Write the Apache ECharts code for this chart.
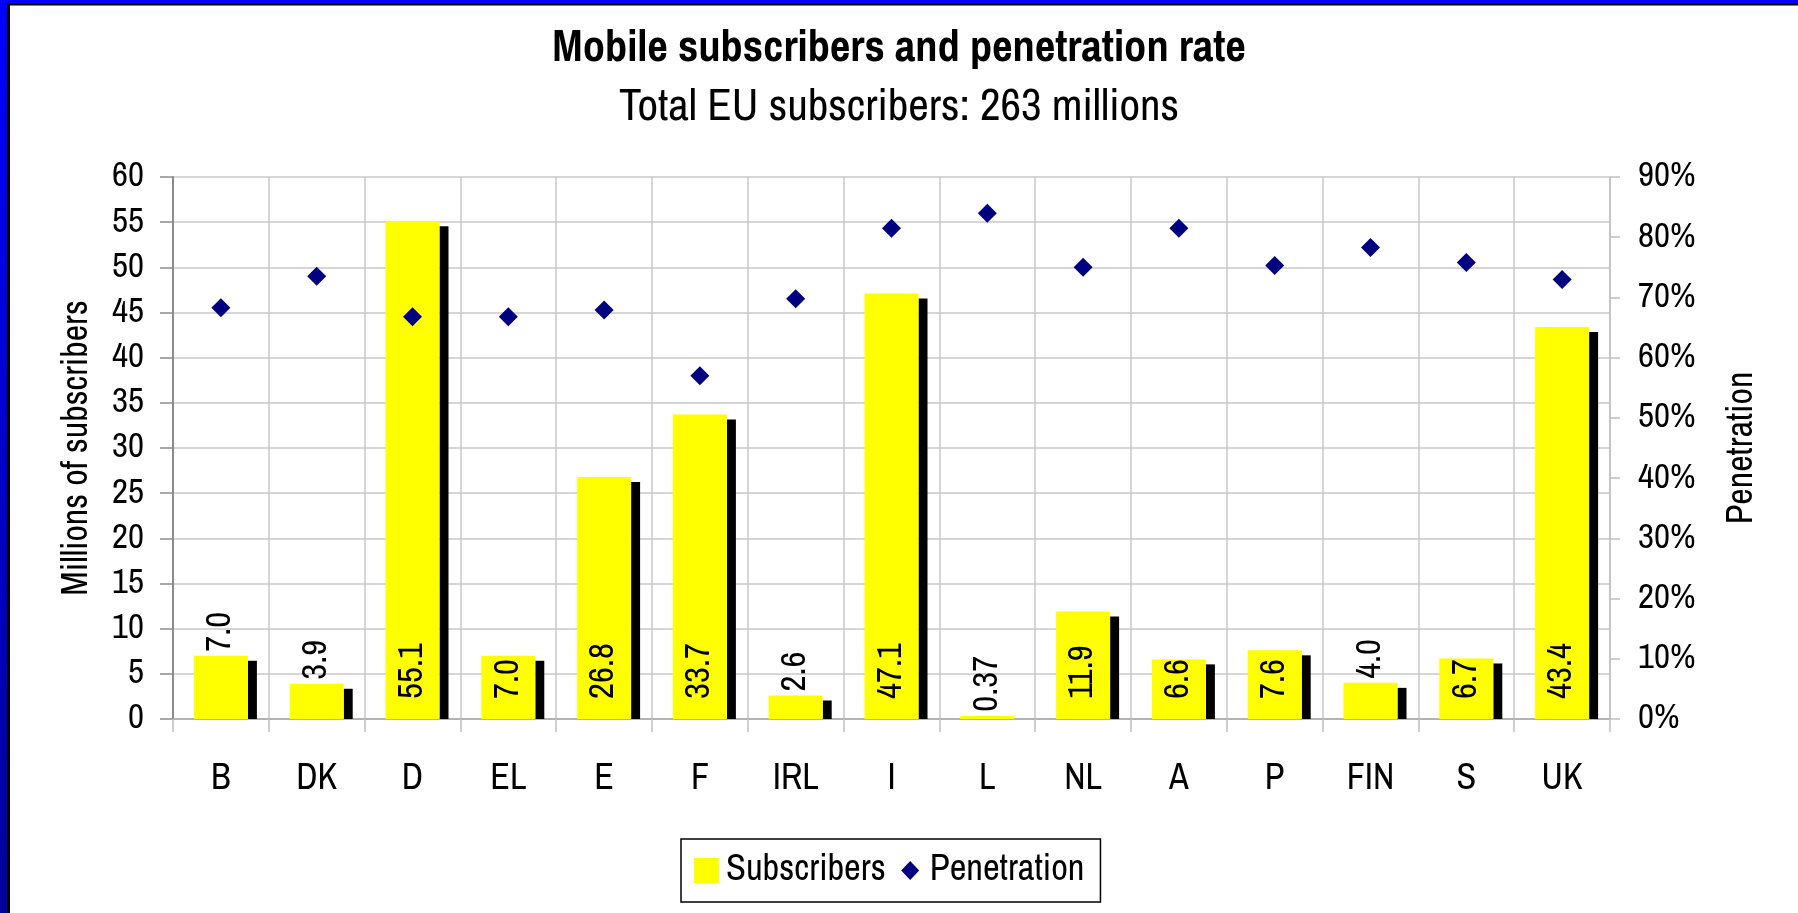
<!DOCTYPE html>
<html>
<head>
<meta charset="utf-8">
<script src="https://cdn.jsdelivr.net/npm/echarts@6/dist/echarts.min.js"></script>
<style>
html,body{margin:0;padding:0;background:#fff;}
#chart{width:1798px;height:913px;}
</style>
</head>
<body>
<div id="chart"></div>
<script>
// ---- data ----
const categories = ['B','DK','D','EL','E','F','IRL','I','L','NL','A','P','FIN','S','UK'];
const subscribers = [7.0, 3.9, 55.1, 7.0, 26.8, 33.7, 2.6, 47.1, 0.37, 11.9, 6.6, 7.6, 4.0, 6.7, 43.4];
const penetration = [68.3, 73.5, 66.8, 66.8, 67.9, 57.0, 69.8, 81.5, 84.0, 75.0, 81.5, 75.3, 78.3, 75.8, 73.0];
const leftTicks = {min: 0, max: 60, interval: 5};
const rightTicks = {min: 0, max: 90, interval: 10};
const titleText = 'Mobile subscribers and penetration rate';
const subtitleText = 'Total EU subscribers: 263 millions';

// ---- style ----
const FONT = "'Archivo Narrow', 'PT Sans Narrow', 'Roboto Condensed', sans-serif";
const outsideLabelCats = ['B','DK','IRL','L','FIN'];
const BAR_W = 54, SH_W = 9, SH_DY = 5;

const fmt = v => v < 1 ? v.toFixed(2) : v.toFixed(1);

const barData = subscribers.map((v, i) => {
  const outside = outsideLabelCats.indexOf(categories[i]) >= 0;
  return {
    value: v,
    label: outside
      ? {position: 'top', distance: 4}
      : {position: 'insideBottom', distance: 20}
  };
});

const chart = echarts.init(document.getElementById('chart'), null, {renderer: 'canvas'});
chart.setOption({
  backgroundColor: '#ffffff',
  animation: false,
  textStyle: {fontFamily: FONT},
  title: [
    {text: titleText, left: 'center', top: 22,
     textStyle: {fontFamily: FONT, fontSize: 44.5, fontWeight: 'bold', color: '#000'}},
    {text: subtitleText, left: 'center', top: 80,
     textStyle: {fontFamily: FONT, fontSize: 45, fontWeight: 'normal', color: '#000'}}
  ],
  legend: {
    left: 681, top: 839,
    orient: 'horizontal',
    borderColor: '#000', borderWidth: 1.5,
    padding: [13, 16, 13, 13],
    itemWidth: 25, itemHeight: 25, itemGap: 12,
    textStyle: {fontFamily: FONT, fontSize: 36.5, color: '#000', padding: [0, 0, 0, 2]},
    data: [
      {name: 'Subscribers', icon: 'rect'},
      {name: 'Penetration', icon: 'path://M0,0M25,25M12.5,3L21.5,12.5L12.5,22L3.5,12.5Z'}
    ]
  },
  grid: {left: 173, right: 188, top: 177, bottom: 194},
  xAxis: {
    type: 'category',
    data: categories,
    boundaryGap: true,
    axisLine: {show: true, lineStyle: {color: '#a8a8a8', width: 1.5}},
    axisTick: {show: true, length: 13, lineStyle: {color: '#c0c0c0', width: 1.5}},
    axisLabel: {fontFamily: FONT, fontSize: 36, color: '#000', margin: 42},
    splitLine: {show: true, lineStyle: {color: '#c8c8c8', width: 1.5}}
  },
  yAxis: [
    {
      type: 'value', position: 'left',
      min: leftTicks.min, max: leftTicks.max, interval: leftTicks.interval,
      name: 'Millions of subscribers', nameLocation: 'middle', nameGap: 78, nameRotate: 90,
      nameTextStyle: {fontFamily: FONT, fontSize: 36, color: '#000'},
      axisLine: {show: true, lineStyle: {color: '#8c8c8c', width: 2}},
      axisTick: {show: true, length: 13, lineStyle: {color: '#8c8c8c', width: 1.5}},
      axisLabel: {fontFamily: FONT, fontSize: 35, color: '#000', margin: 29},
      splitLine: {show: true, lineStyle: {color: '#c8c8c8', width: 1.5}}
    },
    {
      type: 'value', position: 'right',
      min: rightTicks.min, max: rightTicks.max, interval: rightTicks.interval,
      name: 'Penetration', nameLocation: 'middle', nameGap: 114, nameRotate: 90,
      nameTextStyle: {fontFamily: FONT, fontSize: 36, color: '#000'},
      axisLine: {show: true, lineStyle: {color: '#c0c0c0', width: 1.5}},
      axisTick: {show: true, length: 10, lineStyle: {color: '#c0c0c0', width: 1.5}},
      axisLabel: {fontFamily: FONT, fontSize: 35, color: '#000', margin: 28, formatter: '{value}%'},
      splitLine: {show: false}
    }
  ],
  series: [
    {
      name: 'shadow',
      type: 'custom',
      xAxisIndex: 0, yAxisIndex: 0,
      silent: true, z: 1,
      data: subscribers.map((v, i) => [i, v]),
      encode: {x: 0, y: 1},
      renderItem: function (params, api) {
        const idx = api.value(0), v = api.value(1);
        const top = api.coord([idx, v]);
        const base = api.coord([idx, 0]);
        const y = Math.min(top[1] + SH_DY, base[1]);
        return {
          type: 'rect',
          shape: {x: top[0] + BAR_W / 2, y: y, width: SH_W, height: base[1] - y},
          style: {fill: '#000000'}
        };
      }
    },
    {
      name: 'Subscribers',
      type: 'bar',
      xAxisIndex: 0, yAxisIndex: 0,
      barWidth: BAR_W,
      z: 2,
      itemStyle: {color: '#ffff00'},
      label: {
        show: true, rotate: 90, align: 'left', verticalAlign: 'middle',
        fontFamily: FONT, fontSize: 35, color: '#000',
        formatter: p => fmt(p.value)
      },
      data: barData
    },
    {
      name: 'Penetration',
      type: 'scatter',
      xAxisIndex: 0, yAxisIndex: 1,
      symbol: 'diamond', symbolSize: 19,
      z: 5,
      itemStyle: {color: '#000080', opacity: 1},
      data: penetration
    }
  ],
  graphic: [
    {type: 'rect', left: 0, top: 0, z: 100, shape: {width: 1798, height: 3}, style: {fill: '#0000ff'}},
    {type: 'rect', left: 7, top: 3, z: 100, shape: {width: 1791, height: 2.5}, style: {fill: '#000000'}},
    {type: 'rect', left: 0, top: 0, z: 100, shape: {width: 7, height: 913},
     style: {fill: new echarts.graphic.LinearGradient(0, 0, 0, 1, [
       {offset: 0, color: '#0000ff'}, {offset: 1, color: '#00009a'}])}},
    {type: 'rect', left: 7, top: 3, z: 100, shape: {width: 3, height: 910}, style: {fill: '#000000'}}
  ]
});
</script>
</body>
</html>
